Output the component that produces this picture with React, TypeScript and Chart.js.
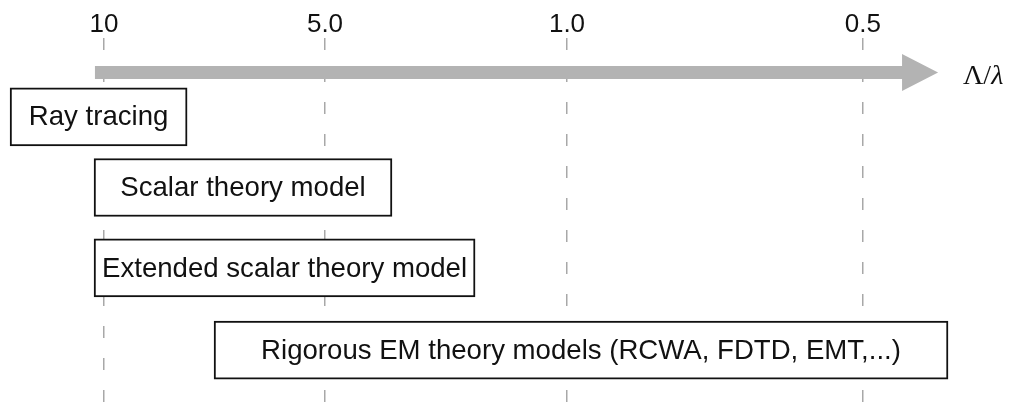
import React, { useEffect, useRef } from "react";
import { Chart, registerables } from "chart.js";

Chart.register(...registerables);

// Axis ticks (Λ/λ values) and their positions along the axis
const tickLabels = ["10", "5.0", "1.0", "0.5"];
const tickPositions = [0, 1, 2.095, 3.434];

// Model ranges along the axis
const models = [
  "Ray tracing",
  "Scalar theory model",
  "Extended scalar theory model",
  "Rigorous EM theory models (RCWA, FDTD, EMT,...)",
];
const rangeStart = [-0.425, -0.045, -0.045, 0.498];
const rangeEnd = [0.376, 1.303, 1.679, 3.819];
const rowLevel = [2.12, 4.02, 6.18, 8.39];

// Arrow along the axis
const arrowStart = -0.041;
const arrowHeadBase = 3.611;
const arrowTip = 3.774;
const arrowLevel = 0.93;
const axisTitleUpright = "Λ/";
const axisTitleItalic = "λ";

export default function App() {
  const ref = useRef<HTMLCanvasElement | null>(null);

  useEffect(() => {
    if (!ref.current) return;

    const arrowPlugin = {
      id: "arrowPlugin",
      beforeDatasetsDraw(chart: any) {
        const { ctx, scales } = chart;
        const x0 = scales.x.getPixelForValue(arrowStart);
        const xb = scales.x.getPixelForValue(arrowHeadBase);
        const xt = scales.x.getPixelForValue(arrowTip);
        const y = scales.y.getPixelForValue(arrowLevel);
        ctx.save();
        ctx.fillStyle = "#b3b3b3";
        ctx.beginPath();
        ctx.moveTo(x0, y - 6.5);
        ctx.lineTo(xb, y - 6.5);
        ctx.lineTo(xb, y - 18.5);
        ctx.lineTo(xt, y);
        ctx.lineTo(xb, y + 18.5);
        ctx.lineTo(xb, y + 6.5);
        ctx.lineTo(x0, y + 6.5);
        ctx.closePath();
        ctx.fill();
        ctx.fillStyle = "#111";
        ctx.textAlign = "left";
        ctx.textBaseline = "middle";
        ctx.font = "28px 'Liberation Serif'";
        const tx = xt + 25;
        ctx.fillText(axisTitleUpright, tx, y + 4);
        const w = ctx.measureText(axisTitleUpright).width;
        ctx.font = "italic 28px 'Liberation Serif'";
        ctx.fillText(axisTitleItalic, tx + w, y + 4);
        ctx.restore();
      },
    };

    const labelPlugin = {
      id: "labelPlugin",
      afterDatasetsDraw(chart: any) {
        const { ctx, scales } = chart;
        ctx.save();
        ctx.fillStyle = "#111";
        ctx.font = "27.6px 'Liberation Sans'";
        ctx.textAlign = "center";
        ctx.textBaseline = "middle";
        models.forEach((m, i) => {
          const cx =
            (scales.x.getPixelForValue(rangeStart[i]) +
              scales.x.getPixelForValue(rangeEnd[i])) /
            2;
          const cy = scales.y.getPixelForValue(rowLevel[i]);
          ctx.fillText(m, cx, cy + 1);
        });
        ctx.restore();
      },
    };

    const chart = new Chart(ref.current, {
      type: "bar",
      data: {
        datasets: [
          {
            data: models.map((_, i) => ({
              x: [rangeStart[i], rangeEnd[i]],
              y: rowLevel[i],
            })) as any,
            backgroundColor: "#ffffff",
            borderColor: "#111111",
            borderWidth: 2,
            borderSkipped: false,
            barThickness: 58,
            grouped: false,
          } as any,
        ],
      },
      options: {
        indexAxis: "y",
        animation: false,
        responsive: false,
        layout: { padding: 0 },
        plugins: {
          legend: { display: false },
          tooltip: { enabled: false },
        },
        scales: {
          x: {
            type: "linear",
            position: "top",
            min: -0.4706,
            max: 4.104,
            afterBuildTicks: (axis: any) => {
              axis.ticks = tickPositions.map((v) => ({ value: v }));
            },
            afterFit: (axis: any) => {
              axis.height = 38;
            },
            ticks: {
              padding: -2,
              maxRotation: 0,
              autoSkip: false,
              color: "#111",
              font: { family: "'Liberation Sans'", size: 26 },
              callback: (_v: any, i: number) => tickLabels[i],
            },
            grid: {
              drawTicks: false,
              color: "#a8a8a8",
              lineWidth: 1.5,
            },
            border: { display: false, dash: [12, 20] },
          },
          y: {
            type: "linear",
            display: false,
            reverse: true,
            offset: false,
            min: 0,
            max: 10,
          },
        },
      },
      plugins: [arrowPlugin, labelPlugin],
    });

    return () => chart.destroy();
  }, []);

  return (
    <div style={{ position: "fixed", left: 0, top: 0, width: 1011, height: 410, background: "#fff" }}>
      <canvas ref={ref} width={1011} height={410} style={{ display: "block" }} />
    </div>
  );
}
